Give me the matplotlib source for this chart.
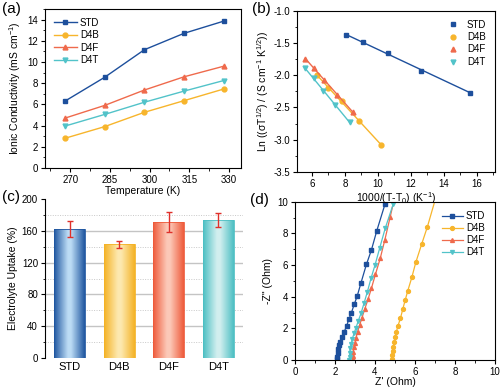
import numpy as np
import matplotlib
matplotlib.use("Agg")
import matplotlib.pyplot as plt
from matplotlib.colors import LinearSegmentedColormap
from matplotlib.patches import Rectangle
from matplotlib.ticker import MultipleLocator

plt.rcParams['font.family'] = ['Liberation Sans', 'DejaVu Sans']
plt.rcParams['mathtext.fontset'] = 'custom'
plt.rcParams['mathtext.rm'] = 'Liberation Sans'
plt.rcParams['mathtext.it'] = 'Liberation Sans:italic'
plt.rcParams['font.size'] = 7

names = ['STD', 'D4B', 'D4F', 'D4T']
colors = {'STD': '#1d4f9c', 'D4B': '#f7b52c', 'D4F': '#ef6a4c', 'D4T': '#52c3c9'}
markers = {'STD': 's', 'D4B': 'o', 'D4F': '^', 'D4T': 'v'}

# (a) ionic conductivity vs temperature
temp = [268, 283, 298, 313, 328]
cond = {
    'STD': [6.3, 8.55, 11.15, 12.7, 13.85],
    'D4B': [2.8, 3.9, 5.25, 6.35, 7.45],
    'D4F': [4.7, 5.9, 7.35, 8.6, 9.6],
    'D4T': [3.95, 5.05, 6.2, 7.25, 8.25],
}

# (b) VTF plot
vtf_x = {
    'STD': [8.08, 9.13, 10.64, 12.6, 15.6],
    'D4B': [6.3, 7.0, 7.8, 8.85, 10.2],
    'D4F': [5.6, 6.1, 6.75, 7.5, 8.5],
    'D4T': [5.6, 6.1, 6.7, 7.4, 8.3],
}
vtf_y = {
    'STD': [-1.38, -1.49, -1.65, -1.93, -2.27],
    'D4B': [-2.0, -2.19, -2.4, -2.71, -3.08],
    'D4F': [-1.74, -1.88, -2.07, -2.3, -2.57],
    'D4T': [-1.89, -2.05, -2.24, -2.46, -2.73],
}

# (c) electrolyte uptake
uptake = [162, 143, 171, 174]
uptake_err = [10, 4, 13, 9]
bar_light = ['#bcdcf5', '#fde9b0', '#fcc9b8', '#d2efef']
bar_dark = ['#1f56a0', '#f4b225', '#ee5a3a', '#4cbfc3']

# (d) Nyquist plots
zre = {
    'STD': [2.10, 2.12, 2.14, 2.17, 2.22, 2.27, 2.36, 2.46, 2.58, 2.69, 2.81, 2.96, 3.11, 3.30, 3.57, 3.82, 4.09, 4.51],
    'D4B': [4.85, 4.87, 4.88, 4.92, 4.95, 5.0, 5.07, 5.15, 5.27, 5.39, 5.51, 5.64, 5.84, 6.04, 6.33, 6.62, 7.05],
    'D4F': [2.88, 2.9, 2.91, 2.95, 3.0, 3.05, 3.13, 3.23, 3.35, 3.48, 3.65, 3.82, 4.02, 4.26, 4.49, 4.76, 4.99],
    'D4T': [2.71, 2.73, 2.74, 2.76, 2.81, 2.86, 2.95, 3.05, 3.16, 3.3, 3.45, 3.62, 3.8, 4.0, 4.24, 4.51, 4.92],
}
zim = {
    'STD': [0.04, 0.21, 0.42, 0.67, 0.95, 1.16, 1.43, 1.79, 2.15, 2.57, 2.95, 3.52, 4.04, 4.88, 6.04, 6.95, 8.17, 9.89],
    'D4B': [0.06, 0.32, 0.57, 0.84, 1.12, 1.43, 1.79, 2.17, 2.63, 3.22, 3.79, 4.38, 5.22, 6.17, 7.31, 8.42, 10.3],
    'D4F': [0.04, 0.27, 0.53, 0.8, 1.09, 1.41, 1.79, 2.21, 2.67, 3.2, 3.83, 4.53, 5.41, 6.42, 7.58, 9.05, 10.3],
    'D4T': [0.0, 0.21, 0.46, 0.74, 1.01, 1.31, 1.68, 2.04, 2.46, 2.95, 3.58, 4.32, 5.16, 6.0, 7.1, 8.32, 9.89],
}

fig = plt.figure(figsize=(5, 3.88), dpi=100)
ax_a = fig.add_axes([0.09, 0.567, 0.392, 0.41])
ax_b = fig.add_axes([0.594, 0.557, 0.396, 0.415])
ax_c = fig.add_axes([0.09, 0.077, 0.396, 0.41])
ax_d = fig.add_axes([0.59, 0.072, 0.40, 0.408])

for ax in (ax_a, ax_b, ax_d):
    ax.tick_params(which='both', direction='out', labelsize=7, pad=2)
    ax.tick_params(which='major', length=3)
    ax.tick_params(which='minor', length=1.8)

# ---- (a)
for n in names:
    ax_a.plot(temp, cond[n], color=colors[n], marker=markers[n], ms=3.5, lw=1, label=n)
ax_a.set_xlim(260.5, 334.5)
ax_a.set_ylim(0, 15)
ax_a.set_xticks([270, 285, 300, 315, 330])
ax_a.xaxis.set_minor_locator(MultipleLocator(7.5))
ax_a.yaxis.set_major_locator(MultipleLocator(2))
ax_a.yaxis.set_minor_locator(MultipleLocator(1))
ax_a.set_xlabel('Temperature (K)', fontsize=7.5, labelpad=1)
ax_a.set_ylabel('Ionic Conductivity (mS cm$^{-1}$)', fontsize=7.5, labelpad=3)
ax_a.legend(loc='upper left', frameon=False, fontsize=7, handlelength=2.4,
            labelspacing=0.25, borderaxespad=0.5, handletextpad=0.3)

# ---- (b)
for n in names:
    xs = np.array(vtf_x[n])
    k, b = np.polyfit(xs, vtf_y[n], 1)
    xx = np.array([xs.min(), xs.max()])
    ax_b.plot(xx, k * xx + b, color=colors[n], lw=1)
    ax_b.plot(xs, vtf_y[n], ls='none', color=colors[n], marker=markers[n], ms=3.5, label=n)
ax_b.set_xlim(5.1, 17.1)
ax_b.set_ylim(-3.5, -1.0)
ax_b.xaxis.set_major_locator(MultipleLocator(2))
ax_b.xaxis.set_minor_locator(MultipleLocator(1))
ax_b.yaxis.set_major_locator(MultipleLocator(0.5))
ax_b.yaxis.set_minor_locator(MultipleLocator(0.25))
ax_b.yaxis.set_major_formatter(lambda v, p: '%.1f' % v)
ax_b.set_xlabel('1000/(T-T$_0$) (K$^{-1}$)', fontsize=7.5, labelpad=1)
ax_b.set_ylabel('Ln ((σT$^{1/2}$) / (S cm$^{-1}$ K$^{1/2}$))', fontsize=7.5, labelpad=2)
ax_b.legend(loc='upper right', frameon=False, fontsize=7, handlelength=1.2,
            labelspacing=0.25, borderaxespad=0.5, handletextpad=0.8)

# ---- (c)
xpos = np.arange(len(names))
width = 0.62
for y in [20, 60, 100, 140, 180]:
    ax_c.axhline(y, color='#c8c8c8', lw=0.7, ls=(0, (1, 1.5)), zorder=0)
for y in [40, 80, 120, 160]:
    ax_c.axhline(y, color='#c4c4c4', lw=1.0, zorder=0)
grad = np.linspace(0, 1, 256)[None, :]
for i, n in enumerate(names):
    cmap = LinearSegmentedColormap.from_list(
        n, [(0, bar_dark[i]), (0.45, bar_light[i]), (0.55, bar_light[i]), (1, bar_dark[i])])
    x0 = xpos[i] - width / 2
    rect = Rectangle((x0, 0), width, uptake[i], facecolor='none',
                     edgecolor=bar_dark[i], lw=0.6, zorder=3)
    ax_c.add_patch(rect)
    im = ax_c.imshow(grad, cmap=cmap, aspect='auto', extent=(x0, x0 + width, 0, uptake[i]),
                     zorder=2, interpolation='bicubic')
    im.set_clip_path(rect)
ax_c.errorbar(xpos, uptake, yerr=uptake_err, fmt='none', ecolor='#e0302a',
              elinewidth=1, capsize=2.5, capthick=1, zorder=4)
ax_c.set_xlim(-0.5, 3.5)
ax_c.set_ylim(0, 200)
ax_c.set_xticks(xpos)
ax_c.set_xticklabels(names, fontsize=8)
ax_c.yaxis.set_major_locator(MultipleLocator(40))
ax_c.yaxis.set_minor_locator(MultipleLocator(20))
ax_c.tick_params(axis='x', length=0, pad=3)
ax_c.tick_params(axis='y', which='major', direction='out', length=3, labelsize=7, pad=2)
ax_c.tick_params(axis='y', which='minor', direction='out', length=1.8)
for s in ('top', 'right', 'bottom'):
    ax_c.spines[s].set_visible(False)
ax_c.set_ylabel('Electrolyte Uptake (%)', fontsize=7.5, labelpad=3)

# ---- (d)
for n in names:
    ax_d.plot(zre[n], zim[n], color=colors[n], marker=markers[n], ms=2.8, lw=0.9, label=n)
ax_d.set_xlim(0, 10)
ax_d.set_ylim(0, 10)
ax_d.xaxis.set_major_locator(MultipleLocator(2))
ax_d.xaxis.set_minor_locator(MultipleLocator(1))
ax_d.yaxis.set_major_locator(MultipleLocator(2))
ax_d.yaxis.set_minor_locator(MultipleLocator(1))
ax_d.set_xlabel("Z' (Ohm)", fontsize=7.5, labelpad=0)
ax_d.set_ylabel('-Z" (Ohm)', fontsize=7.5, labelpad=3)
ax_d.legend(loc='upper right', frameon=False, fontsize=7, handlelength=2.2,
            labelspacing=0.2, borderaxespad=0.6, handletextpad=0.3)

# panel labels
fig.text(0.004, 0.995, '(a)', fontsize=11, va='top')
fig.text(0.504, 0.995, '(b)', fontsize=11, va='top')
fig.text(0.004, 0.51, '(c)', fontsize=11, va='top')
fig.text(0.500, 0.502, '(d)', fontsize=11, va='top')

fig.savefig('out.png', dpi=100)
